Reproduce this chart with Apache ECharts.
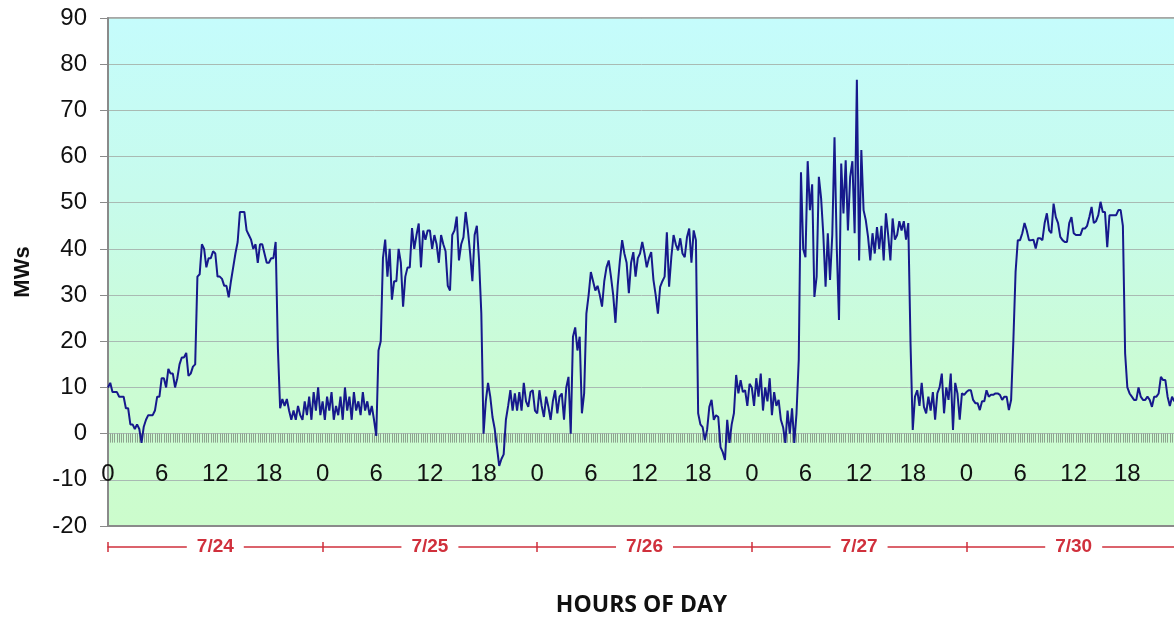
<!DOCTYPE html>
<html><head><meta charset="utf-8">
<script src="https://cdn.jsdelivr.net/npm/echarts@6/dist/echarts.min.js"></script>
<style>html,body{margin:0;padding:0;background:#fff}#c{width:1174px;height:619px}</style>
</head><body><div id="c"></div>
<script>
const dayLabels = ['7/24', '7/25', '7/26', '7/27', '7/30'];
const hourTicks = [0, 6, 12, 18];
const stepHours = 0.25;
const yTicks = { min: -20, max: 90, interval: 10 };

const day1 = [
  10, 11, 9, 9, 9, 8, 8, 8, 5.5, 5.5, 2, 2,
  1, 2, 1, -2, 1.5, 3, 4, 4, 4, 5, 8, 8,
  12, 12, 10, 14, 13, 13, 10, 12, 15, 16.5, 16.5, 17.5,
  12.5, 13, 14.5, 15, 34, 34.5, 41, 40, 36, 38, 38, 39.5,
  39, 34, 34, 33.5, 32, 32, 29.5, 33, 36, 39, 41.5, 48,
  48, 48, 44, 43, 42, 40, 41, 37, 41, 41, 39, 37,
  37, 38, 38, 41.5, 18.5, 5.5, 7.5, 6, 7.5, 5, 3, 5,
  3, 6, 4, 3, 7, 4, 8, 3, 9, 5, 10, 4];
const day2 = [
  7, 3, 8, 5, 9, 3, 6, 4, 8, 3, 10, 5,
  8, 3, 9, 5, 7, 4, 9, 5, 7, 4, 6, 3,
  -0.5, 18, 20, 38, 42, 34, 40, 29, 33, 33, 40, 37,
  27.5, 34, 36, 36, 44.5, 40, 43, 45.5, 36, 44, 42, 44,
  44, 40, 43, 41, 37, 43, 41, 39.5, 32, 31, 43, 44,
  47, 37.5, 41, 42.5, 48, 44, 39, 33, 43, 45, 37.5, 26,
  0, 7, 11, 8, 3.6, 1, -3, -7, -5.5, -4.5, 3, 6,
  9.4, 5, 8.7, 5, 9, 5, 11, 7, 5.8, 9, 9.4, 5];
const day3 = [
  4.4, 9.4, 6, 3.6, 8, 5.8, 3, 7, 9.4, 4.4, 8, 8.7,
  3, 10, 12.3, 0, 21, 23, 18, 21, 4.4, 8.7, 26, 30,
  35, 33, 31, 32, 30, 27.5, 33, 36, 37.5, 34, 30, 24,
  32, 37.5, 41.9, 39, 37, 30.4, 37, 39.3, 34, 38, 39, 41.5,
  39, 36, 38, 39.3, 33.3, 30, 26, 31.8, 33, 34, 43.6, 31.8,
  38.2, 43, 41, 39.7, 42.3, 39, 38.2, 42.5, 44.4, 37, 44, 41.9,
  4.4, 2, 1.4, -1.4, 0.8, 5.8, 7.3, 3, 4, 3.6, -2.9, -4,
  -5.7, 3, -2, 2, 4.4, 12.7, 8.7, 11.6, 9, 9.4, 6, 10.8];
const day4 = [
  10, 6, 12, 8, 13, 5, 10, 7, 12, 4, 9, 6,
  7.3, 3, 1.4, -2, 5, 0, 5.5, -2, 4.4, 16, 56.6, 40,
  38.2, 59, 48.4, 54, 29.6, 34, 55.6, 51, 43, 31.8, 43.4, 33.3,
  43, 64.2, 40.4, 24.6, 58.5, 47.7, 59.2, 44, 55.6, 59, 43.4, 76.6,
  37.5, 61.4, 48.4, 46.2, 42.6, 37.5, 43.4, 39, 44.7, 40, 45, 37.5,
  47.7, 43, 37.5, 46.6, 42, 43, 46, 44, 46, 42, 45.6, 19.6,
  0.8, 8, 9.4, 6, 11, 5.8, 4.4, 8, 5, 9, 3, 8.7,
  10, 13, 4.4, 10, 7.3, 13, 0.8, 11, 8.7, 3, 8.7, 8.4];
const day5 = [
  9, 9.4, 9.4, 7.3, 6.6, 6.6, 5.1, 7, 7, 9.4, 8, 8.4,
  8.4, 8.7, 8.7, 8.4, 7.3, 8, 8, 5.1, 7.3, 20, 35, 41.9,
  41.9, 43.4, 45.6, 44, 41.9, 41.9, 42, 40.1, 42.3, 42.3, 41.9, 45.6,
  47.7, 44, 43.4, 49.8, 46.9, 45.6, 42.6, 41.9, 41.5, 41.5, 45.6, 46.9,
  43.4, 43, 43, 43, 44.4, 44.4, 45, 46.9, 49.1, 45.6, 46, 47.3,
  50.2, 48, 48, 40.4, 47.3, 47.3, 47.3, 47.3, 48.4, 48.4, 45, 17.4,
  10, 8.7, 8, 7.3, 7.3, 10, 8, 7.3, 7.3, 8, 7.3, 5.8,
  8, 8, 8.7, 12.3, 11.6, 11.6, 8, 6, 8, 7, 8, 8];

const days = [day1, day2, day3, day4, day5];
const points = [];
days.forEach((arr, d) => arr.forEach((v, i) => points.push([d * 24 + i * stepHours, v])));
const totalHours = days.length * 24;

const red = '#d0303c';
const gray = '#8a8a8a';

const chart = echarts.init(document.getElementById('c'));
chart.setOption({
  animation: false,
  grid: {
    left: 108, top: 18, width: 1073, bottom: 93, show: true,
    outerBoundsMode: 'none', containLabel: false,
    borderColor: gray, borderWidth: 1.5,
    backgroundColor: {
      type: 'linear', x: 0, y: 0, x2: 0, y2: 1,
      colorStops: [
        { offset: 0, color: '#c5fcfc' },
        { offset: 0.35, color: '#c7fbec' },
        { offset: 0.7, color: '#cbfcd4' },
        { offset: 1, color: '#ccfccc' }
      ]
    }
  },
  xAxis: [
    {
      type: 'value', min: 0, max: totalHours, interval: 6, position: 'bottom',
      axisLine: { onZero: false, lineStyle: { color: gray, width: 2 } },
      axisTick: { show: false }, splitLine: { show: false },
      axisLabel: {
        inside: true, margin: 52, verticalAlign: 'middle', fontSize: 24,
        fontFamily: 'Liberation Sans, Arial, sans-serif', color: '#111',
        formatter: v => hourTicks.includes(v % 24) ? String(v % 24) : ''
      },
      name: 'HOURS OF DAY', nameLocation: 'middle', nameGap: 68,
      nameTextStyle: { fontFamily: 'Open Sans', fontWeight: 'bold', fontSize: 23, color: '#111', padding: [0, 6, 0, 0] }
    },
    {
      type: 'value', min: 0, max: totalHours, interval: 0.25, position: 'bottom',
      axisLine: { show: false, onZero: true },
      axisTick: { show: true, length: 9, lineStyle: { color: 'rgba(125,140,125,0.8)', width: 1 } },
      axisLabel: { show: false }, splitLine: { show: false }
    },
    {
      type: 'category', data: dayLabels, boundaryGap: true, position: 'bottom', offset: 21,
      axisLine: { onZero: false, lineStyle: { color: red, width: 1.5 } },
      axisTick: { show: true, length: 5, lineStyle: { color: red, width: 1.5 } },
      axisLabel: {
        margin: 0, verticalAlign: 'middle', fontSize: 19, fontWeight: 'bold',
        fontFamily: 'Liberation Sans, Arial, sans-serif', color: red,
        backgroundColor: '#fff', padding: [2, 10]
      },
      splitLine: { show: false }
    },
    {
      type: 'category', data: dayLabels, boundaryGap: true, position: 'bottom', offset: 21,
      axisLine: { show: false, onZero: false },
      axisTick: { show: true, inside: true, length: 5, lineStyle: { color: red, width: 1.5 } },
      axisLabel: { show: false }, splitLine: { show: false }
    }
  ],
  yAxis: {
    type: 'value', min: yTicks.min, max: yTicks.max, interval: yTicks.interval,
    axisLine: { show: true, onZero: false, lineStyle: { color: gray, width: 2 } },
    axisTick: { show: true, length: 8, lineStyle: { color: gray } },
    splitLine: { lineStyle: { color: '#a9bab3', width: 1 } },
    axisLabel: { margin: 21, fontSize: 24, fontFamily: 'Liberation Sans, Arial, sans-serif', color: '#111' },
    name: 'MWs', nameLocation: 'middle', nameGap: 74,
    nameTextStyle: { fontFamily: 'Liberation Sans, Arial, sans-serif', fontWeight: 'bold', fontSize: 22, color: '#111' }
  },
  series: [{
    type: 'line', xAxisIndex: 0, yAxisIndex: 0, data: points,
    showSymbol: false, z: 5,
    lineStyle: { color: '#16198c', width: 2 }
  }]
});
</script></body></html>
